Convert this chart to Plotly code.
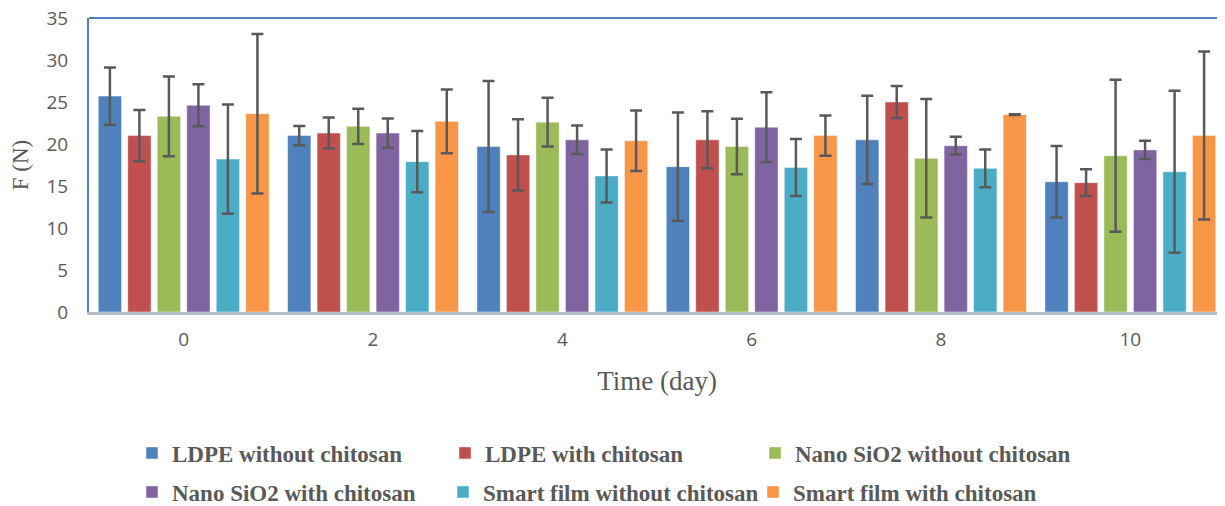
import plotly.graph_objects as go

days = ["0", "2", "4", "6", "8", "10"]

series_names = [
    "LDPE without chitosan",
    "LDPE with chitosan",
    "Nano SiO2 without chitosan",
    "Nano SiO2 with chitosan",
    "Smart film without chitosan",
    "Smart film with chitosan",
]

ldpe_without = [25.7, 21.0, 19.7, 17.3, 20.5, 15.5]
ldpe_without_err = [3.4, 1.15, 7.8, 6.45, 5.25, 4.25]

ldpe_with = [21.0, 21.3, 18.7, 20.5, 25.0, 15.4]
ldpe_with_err = [3.05, 1.85, 4.25, 3.4, 1.9, 1.6]

nano_without = [23.3, 22.1, 22.6, 19.7, 18.3, 18.6]
nano_without_err = [4.75, 2.1, 2.9, 3.3, 7.05, 9.05]

nano_with = [24.6, 21.3, 20.5, 22.0, 19.8, 19.3]
nano_with_err = [2.5, 1.75, 1.7, 4.15, 1.05, 1.1]

smart_without = [18.2, 17.9, 16.2, 17.2, 17.1, 16.7]
smart_without_err = [6.5, 3.65, 3.15, 3.4, 2.25, 9.65]

smart_with = [23.6, 22.7, 20.4, 21.0, 23.5, 21.0]
smart_with_err = [9.5, 3.8, 3.6, 2.4, 0.05, 10.0]

values = [ldpe_without, ldpe_with, nano_without, nano_with, smart_without, smart_with]
errors = [ldpe_without_err, ldpe_with_err, nano_without_err, nano_with_err,
          smart_without_err, smart_with_err]
colors = ["#4F81BD", "#C0504D", "#9BBB59", "#8064A2", "#4BACC6", "#F79646"]

# page body adds an 8px offset, so figure is sized/margined to compensate
OFF = 8
W, H = 1225 - OFF, 506 - OFF
ml, mr, mt, mb = 89 - OFF, 0, 18 - OFF, 194
ph = H - mt - mb
pw = W - ml - mr

legend_names = ["legend", "legend2", "legend3", "legend4", "legend5", "legend6"]
# legend text start (screen px) and row centre (screen px) for each entry
legend_text_x = [173, 486, 796, 173, 484, 794]
legend_row_y = [453, 453, 453, 492, 492, 492]

fig = go.Figure()
for i, (name, v, e, c) in enumerate(zip(series_names, values, errors, colors)):
    fig.add_trace(go.Bar(
        name=name, x=days, y=v,
        marker=dict(color=c, line=dict(color="rgba(255,255,255,0.45)", width=1)),
        error_y=dict(type="data", array=e, visible=True, color="#595959",
                     thickness=2.5, width=6),
        legend=legend_names[i],
    ))

legend_font = dict(family="Liberation Serif", size=23, color="#595959", weight="bold")
legend_layout = {}
for ln, tx, ty in zip(legend_names, legend_text_x, legend_row_y):
    legend_layout[ln] = dict(
        orientation="h", xref="container", yref="container",
        x=(tx - 41 - OFF) / W, xanchor="left",
        y=1 - (ty - OFF) / H, yanchor="middle",
        font=legend_font, bgcolor="rgba(0,0,0,0)", itemclick=False,
    )

fig.update_layout(
    width=W, height=H,
    margin=dict(l=ml, r=mr, t=mt, b=mb),
    paper_bgcolor="white", plot_bgcolor="white",
    barmode="group", bargap=0.065, bargroupgap=0.21,
    showlegend=True,
    **legend_layout,
    xaxis=dict(
        automargin=True,
        showline=True, linecolor="#B4BECB", linewidth=2.5,
        ticks="outside", ticklen=8, tickcolor="rgba(0,0,0,0)",
        tickfont=dict(family="Open Sans", size=19, color="#595959"),
        title=dict(text="Time (day)", standoff=21,
                   font=dict(family="Liberation Serif", size=27, color="#595959")),
        showgrid=False, zeroline=False,
    ),
    yaxis=dict(
        automargin=False, ticklabeloverflow="allow",
        range=[0, 35], dtick=5, tick0=0,
        showline=True, linecolor="#4F81BD", linewidth=2,
        ticks="outside", ticklen=15, tickcolor="rgba(0,0,0,0)",
        tickfont=dict(family="Open Sans", size=19, color="#595959"),
        title=dict(text="F (N)",
                   font=dict(family="Liberation Serif", size=23, color="#595959")),
        showgrid=False, zeroline=False,
    ),
    shapes=[dict(type="line", xref="paper", yref="paper", x0=0, x1=1, y0=1, y1=1,
                 line=dict(color="#4F81BD", width=2))],
)

fig.write_html("out.html")
